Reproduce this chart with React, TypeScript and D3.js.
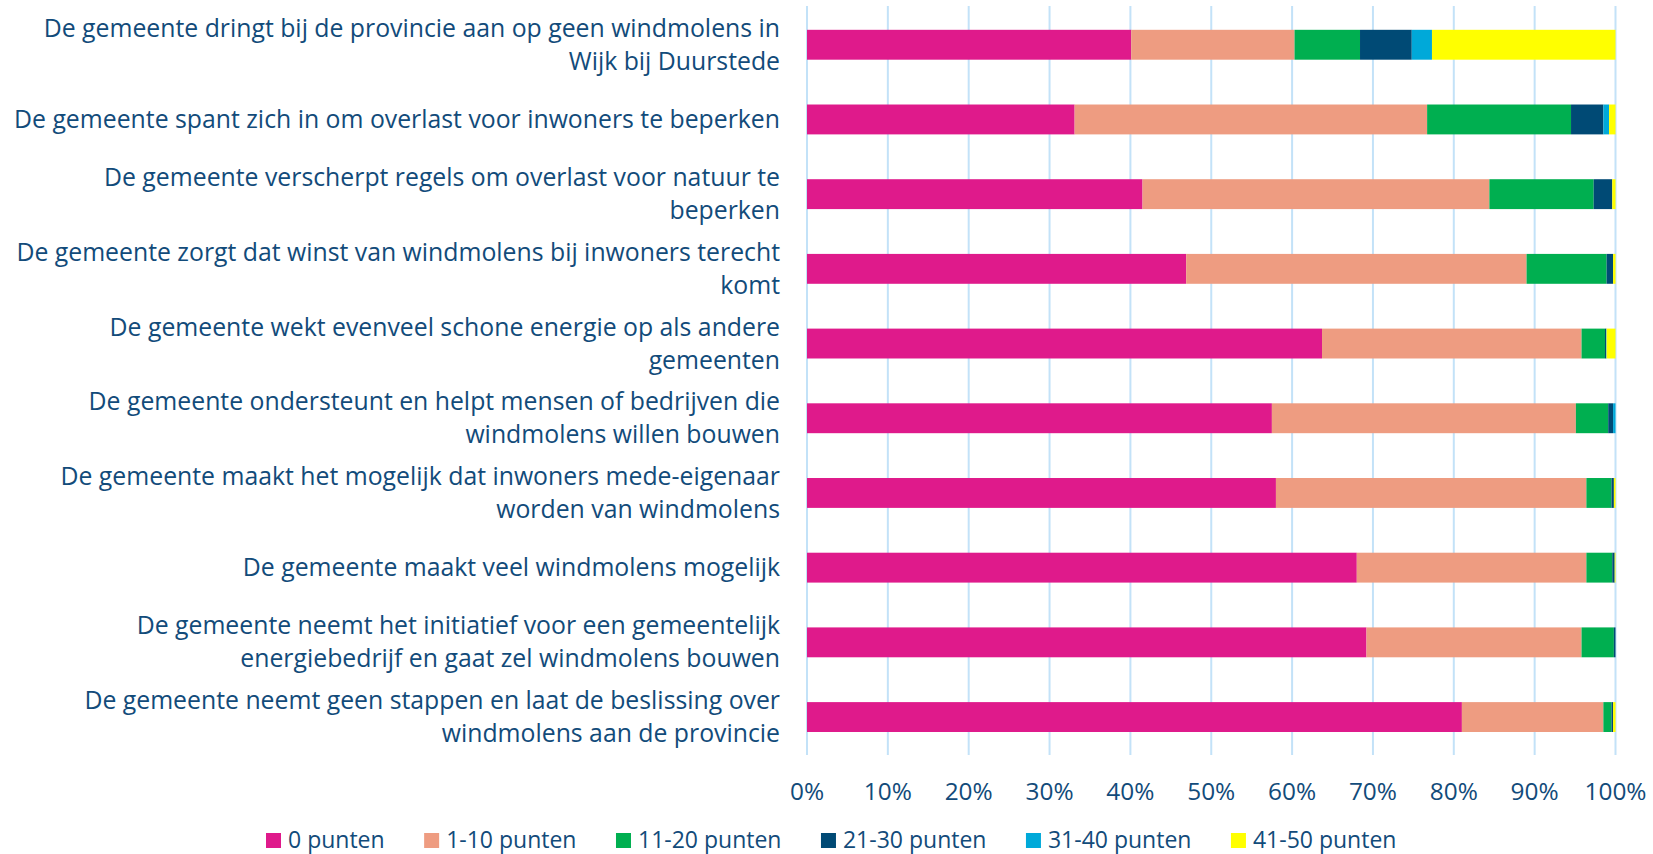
import React, { useEffect, useRef } from "react";
import * as d3 from "d3";

const categories: string[][] = [
  ["De gemeente dringt bij de provincie aan op geen windmolens in", "Wijk bij Duurstede"],
  ["De gemeente spant zich in om overlast voor inwoners te beperken"],
  ["De gemeente verscherpt regels om overlast voor natuur te", "beperken"],
  ["De gemeente zorgt dat winst van windmolens bij inwoners terecht", "komt"],
  ["De gemeente wekt evenveel schone energie op als andere", "gemeenten"],
  ["De gemeente ondersteunt en helpt mensen of bedrijven die", "windmolens willen bouwen"],
  ["De gemeente maakt het mogelijk dat inwoners mede-eigenaar", "worden van windmolens"],
  ["De gemeente maakt veel windmolens mogelijk"],
  ["De gemeente neemt het initiatief voor een gemeentelijk", "energiebedrijf en gaat zel windmolens bouwen"],
  ["De gemeente neemt geen stappen en laat de beslissing over", "windmolens aan de provincie"],
];

const seriesNames = ["0 punten", "1-10 punten", "11-20 punten", "21-30 punten", "31-40 punten", "41-50 punten"];
const seriesColors = ["#DF1A8B", "#EE9C81", "#00AF50", "#004A75", "#00A9D9", "#FFFF00"];

const p0 = [40.1, 33.1, 41.5, 46.9, 63.7, 57.5, 58.0, 68.0, 69.2, 81.0];
const p1_10 = [20.2, 43.6, 42.9, 42.1, 32.1, 37.6, 38.4, 28.4, 26.6, 17.5];
const p11_20 = [8.1, 17.8, 12.9, 9.9, 2.9, 4.0, 3.1, 3.2, 4.0, 1.0];
const p21_30 = [6.4, 4.0, 2.3, 0.8, 0.15, 0.6, 0.3, 0.3, 0.2, 0.2];
const p31_40 = [2.5, 0.7, 0.0, 0.0, 0.05, 0.3, 0.0, 0.0, 0.0, 0.0];
const p41_50 = [22.7, 0.8, 0.4, 0.3, 1.1, 0.0, 0.2, 0.1, 0.0, 0.3];

const tickValues = [0, 0.1, 0.2, 0.3, 0.4, 0.5, 0.6, 0.7, 0.8, 0.9, 1.0];

const W = 1653;
const H = 854;
const FONT = "'Open Sans', 'Noto Sans', sans-serif";
const TEXT = "#124B7A";

export default function App() {
  const ref = useRef<SVGSVGElement | null>(null);

  useEffect(() => {
    const svg = d3.select(ref.current!);
    svg.selectAll("*").remove();

    const seriesArrays = [p0, p1_10, p11_20, p21_30, p31_40, p41_50];
    const rows = categories.map((c, i) => {
      const o: any = { key: i };
      seriesNames.forEach((s, j) => (o[s] = seriesArrays[j][i]));
      return o;
    });

    const x = d3.scaleLinear().domain([0, 1]).range([807, 1615.5]);
    const y = d3
      .scaleBand<number>()
      .domain(d3.range(categories.length))
      .range([7.4, 754.4])
      .paddingInner(0.6)
      .paddingOuter(0.3);

    const stack = d3.stack<any>().keys(seriesNames).offset(d3.stackOffsetExpand);
    const stacked = stack(rows);

    // gridlines
    svg
      .append("g")
      .selectAll("line")
      .data(tickValues)
      .join("line")
      .attr("x1", (d) => x(d))
      .attr("x2", (d) => x(d))
      .attr("y1", 6)
      .attr("y2", 755)
      .attr("stroke", "#C3E2F8")
      .attr("stroke-width", 2);

    // bars
    svg
      .append("g")
      .selectAll("g")
      .data(stacked)
      .join("g")
      .attr("fill", (_d, i) => seriesColors[i])
      .selectAll("rect")
      .data((d) => d)
      .join("rect")
      .attr("x", (d) => x(d[0]))
      .attr("width", (d) => Math.max(0, x(d[1]) - x(d[0])))
      .attr("y", (_d, i) => y(i)!)
      .attr("height", y.bandwidth());

    // category labels
    const fontSize = 24.8;
    const lineH = 33;
    const lab = svg.append("g").attr("font-family", FONT).attr("font-size", fontSize).attr("fill", TEXT);
    categories.forEach((lines, i) => {
      const cy = y(i)! + y.bandwidth() / 2;
      const n = lines.length;
      lines.forEach((ln, k) => {
        lab
          .append("text")
          .attr("x", 780)
          .attr("y", cy + 8.5 + (k - (n - 1) / 2) * lineH)
          .attr("text-anchor", "end")
          .text(ln);
      });
    });

    // x axis labels
    svg
      .append("g")
      .attr("font-family", FONT)
      .attr("font-size", 24.4)
      .attr("fill", TEXT)
      .selectAll("text")
      .data(tickValues)
      .join("text")
      .attr("x", (d) => x(d))
      .attr("y", 800)
      .attr("text-anchor", "middle")
      .text((d) => d3.format(".0%")(d));

    // legend
    const leg = svg.append("g").attr("font-family", FONT).attr("font-size", 23).attr("fill", TEXT);
    const items = leg
      .selectAll("g")
      .data(seriesNames)
      .join("g");
    items
      .append("rect")
      .attr("width", 15)
      .attr("height", 15)
      .attr("y", 833)
      .attr("fill", (_d, i) => seriesColors[i]);
    items
      .append("text")
      .attr("x", 22)
      .attr("y", 848)
      .text((d) => d);
    const widths: number[] = [];
    items.each(function () {
      const t = d3.select(this).select("text").node() as SVGTextElement;
      widths.push(22 + t.getComputedTextLength());
    });
    const gap = 39.5;
    let cx = 266;
    items.attr("transform", (_d, i) => {
      const t = `translate(${cx},0)`;
      cx += widths[i] + gap;
      return t;
    });
  }, []);

  return (
    <svg
      ref={ref}
      width={W}
      height={H}
      style={{ position: "absolute", left: 0, top: 0, background: "#fff" }}
    />
  );
}
